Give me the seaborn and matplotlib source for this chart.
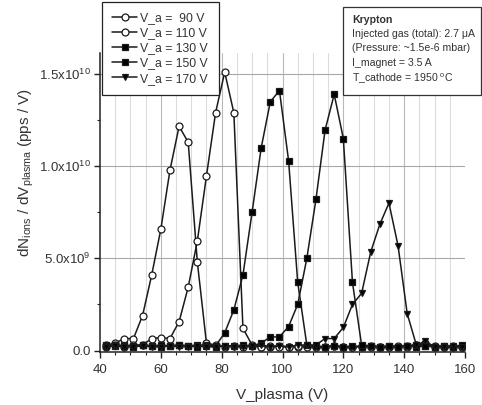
import numpy as np
import pandas as pd
import matplotlib
matplotlib.use("Agg")
import matplotlib.pyplot as plt
from matplotlib.patches import Rectangle
from matplotlib.ticker import MultipleLocator, FixedLocator
import seaborn as sns

# ---------------- data (y values in units of 1e10 pps/V) ----------------
v_plasma = [42, 45, 48, 51, 54, 57, 60, 63, 66, 69, 72, 75, 78, 81, 84, 87, 90, 93, 96, 99,
            102, 105, 108, 111, 114, 117, 120, 123, 126, 129, 132, 135, 138, 141, 144, 147, 150, 153, 156, 159]

va_90 = [0.030, 0.040, 0.065, 0.065, 0.190, 0.410, 0.658, 0.978, 1.216, 1.130,
         0.480, 0.040, 0.030, 0.020, 0.025, 0.020, 0.025, 0.020, 0.020, 0.025,
         0.020, 0.020, 0.025, 0.020, 0.020, 0.025, 0.020, 0.020, 0.020, 0.025,
         0.020, 0.020, 0.020, 0.025, 0.030, 0.040, 0.025, 0.020, 0.020, 0.020]
va_110 = [0.020, 0.030, 0.020, 0.030, 0.030, 0.065, 0.070, 0.065, 0.156, 0.344,
          0.594, 0.947, 1.290, 1.510, 1.290, 0.120, 0.030, 0.020, 0.025, 0.020,
          0.020, 0.025, 0.020, 0.020, 0.020, 0.025, 0.020, 0.020, 0.025, 0.020,
          0.020, 0.020, 0.025, 0.020, 0.030, 0.035, 0.020, 0.020, 0.025, 0.020]
va_130 = [0.030, 0.025, 0.030, 0.025, 0.030, 0.025, 0.030, 0.025, 0.030, 0.025,
          0.030, 0.030, 0.025, 0.096, 0.220, 0.410, 0.750, 1.100, 1.350, 1.410,
          1.030, 0.370, 0.030, 0.025, 0.020, 0.025, 0.020, 0.025, 0.020, 0.025,
          0.020, 0.025, 0.020, 0.025, 0.020, 0.025, 0.020, 0.025, 0.020, 0.025]
va_150 = [0.025, 0.030, 0.025, 0.020, 0.030, 0.025, 0.020, 0.025, 0.030, 0.025,
          0.020, 0.025, 0.020, 0.025, 0.025, 0.030, 0.025, 0.040, 0.074, 0.074,
          0.130, 0.250, 0.500, 0.820, 1.196, 1.390, 1.150, 0.370, 0.030, 0.025,
          0.020, 0.025, 0.020, 0.025, 0.030, 0.025, 0.020, 0.025, 0.020, 0.030]
va_170 = [0.020, 0.025, 0.020, 0.020, 0.025, 0.020, 0.020, 0.025, 0.020, 0.020,
          0.025, 0.020, 0.020, 0.025, 0.020, 0.020, 0.025, 0.030, 0.020, 0.025,
          0.020, 0.030, 0.030, 0.030, 0.065, 0.065, 0.125, 0.250, 0.310, 0.534,
          0.685, 0.800, 0.567, 0.200, 0.030, 0.050, 0.020, 0.020, 0.025, 0.020]

series_labels = ["V_a =  90 V", "V_a = 110 V", "V_a = 130 V", "V_a = 150 V", "V_a = 170 V"]
series_values = [va_90, va_110, va_130, va_150, va_170]

y_ticks = [0.0, 0.5e10, 1.0e10, 1.5e10]
y_tick_labels = ["0.0", r"5.0x10$^{9}$", r"1.0x10$^{10}$", r"1.5x10$^{10}$"]
x_ticks = [40, 60, 80, 100, 120, 140, 160]

info_lines = ["Krypton", "Injected gas (total): 2.7 \u03bcA", "(Pressure: ~1.5e-6 mbar)",
              "I_magnet = 3.5 A", r"T_cathode = 1950 $^{\mathrm{o}}$C"]

# ---------------- style ----------------
sns.set_style("ticks")
plt.rcParams["font.family"] = ["Liberation Sans", "DejaVu Sans"]
plt.rcParams["mathtext.fontset"] = "custom"
plt.rcParams["mathtext.rm"] = "Liberation Sans"
plt.rcParams["mathtext.it"] = "Liberation Sans:italic"
plt.rcParams["mathtext.bf"] = "Liberation Sans:bold"

W, H = 482, 405
fig = plt.figure(figsize=(W / 100, H / 100), dpi=100)
ax = fig.add_axes([100 / W, 1 - 352 / H, 365 / W, 299 / H])

markers = ["o", "o", "s", "s", "v"]
faces = ["white", "white", "black", "black", "black"]

for lab, vals, mk, fc in zip(series_labels, series_values, markers, faces):
    df = pd.DataFrame({"V_plasma": v_plasma, "dN": np.array(vals) * 1e10})
    sns.lineplot(data=df, x="V_plasma", y="dN", ax=ax, sort=False, color="#1a1a1a",
                 linewidth=1.1, marker=mk, markersize=5.0, markerfacecolor=fc,
                 markeredgecolor="#1a1a1a", markeredgewidth=0.9, label=lab, zorder=3)

ax.set_xlim(40, 160)
ax.set_ylim(-0.008e10, 1.614e10)

# grid: vertical every 5 V, horizontal at major y ticks
for xv in range(45, 160, 5):
    col = "#b8b8b8" if xv % 20 == 0 else "#dcdcdc"
    ax.axvline(xv, color=col, linewidth=0.8, zorder=0)
for yv in y_ticks[1:]:
    ax.axhline(yv, color="#a8a8a8", linewidth=0.8, zorder=0)

ax.xaxis.set_major_locator(FixedLocator(x_ticks))
ax.xaxis.set_minor_locator(MultipleLocator(5))
ax.yaxis.set_major_locator(FixedLocator(y_ticks))
ax.yaxis.set_minor_locator(MultipleLocator(0.25e10))
ax.set_yticklabels(y_tick_labels)
ax.tick_params(axis="both", which="major", direction="out", length=4.5, width=1.0,
               labelsize=9.5, color="#222222", labelcolor="#333333", pad=2)
ax.tick_params(axis="x", which="major", pad=4)
ax.tick_params(axis="both", which="minor", direction="out", length=2.5, width=0.8, color="#222222")

for s in ["top", "right"]:
    ax.spines[s].set_visible(False)
for s in ["left", "bottom"]:
    ax.spines[s].set_color("#222222")
    ax.spines[s].set_linewidth(1.1)

ax.set_xlabel("V_plasma (V)", fontsize=11, color="#333333", labelpad=9)
ax.set_ylabel(r"dN$_{\mathrm{ions}}$ / dV$_{\mathrm{plasma}}$ (pps / V)", fontsize=11, color="#333333")
ax.yaxis.set_label_coords(-0.175, 0.60)

leg = ax.legend(loc="upper left", bbox_to_anchor=(102 / W, 1.0 - 2 / H), bbox_transform=fig.transFigure,
                frameon=True, fancybox=False, edgecolor="#222222", framealpha=1, fontsize=8.8,
                handlelength=2.0, handletextpad=0.3, labelspacing=0.25, borderpad=0.85,
                borderaxespad=0)
leg.get_frame().set_linewidth(0.9)
for t in leg.get_texts():
    t.set_color("#333333")

# info box
fig.add_artist(Rectangle((343 / W, 1 - 95 / H), (481 - 343) / W, (95 - 7) / H,
                         transform=fig.transFigure, facecolor="white", edgecolor="#333333",
                         linewidth=0.9, zorder=5))
ys = [20, 34, 48, 63, 79]
for i, (txt, yp) in enumerate(zip(info_lines, ys)):
    fig.text(352 / W, 1 - yp / H, txt, ha="left", va="center", fontsize=7.6,
             family=["Liberation Sans Narrow", "Liberation Sans"],
             fontweight="bold" if i == 0 else "normal", color="#333333", zorder=6)

fig.savefig("out.png", dpi=100)
